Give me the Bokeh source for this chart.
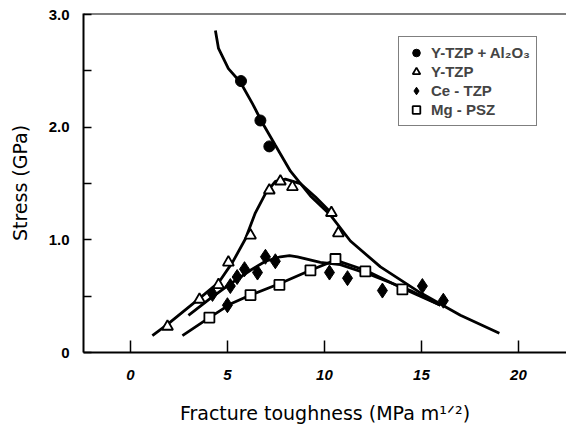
from bokeh.plotting import figure
from bokeh.models import Range1d, FixedTicker, Span, Legend, LegendItem
from bokeh.embed import file_html
from bokeh.resources import INLINE

# ---- data (fracture toughness MPa m^1/2, stress GPa) ----
al_x = [5.7, 6.7, 7.16]
al_y = [2.41, 2.06, 1.83]

ytzp_x = [1.91, 3.56, 4.54, 5.05, 6.19, 7.16, 7.73, 8.35, 10.36, 10.72]
ytzp_y = [0.23, 0.47, 0.60, 0.80, 1.04, 1.44, 1.52, 1.47, 1.24, 1.06]

ce_x = [4.23, 5.0, 5.15, 5.5, 5.88, 6.55, 6.96, 7.47, 10.26, 11.19, 12.99, 15.05, 16.13]
ce_y = [0.52, 0.42, 0.59, 0.67, 0.74, 0.71, 0.85, 0.81, 0.71, 0.66, 0.55, 0.59, 0.46]

mg_x = [4.07, 6.19, 7.68, 9.28, 10.57, 12.11, 14.02]
mg_y = [0.31, 0.51, 0.60, 0.73, 0.83, 0.72, 0.56]

# fitted curves
al_fit_x = [4.38, 4.54, 5.05, 5.67, 6.29, 6.80, 7.47, 8.25, 9.28, 10.31, 11.34, 12.89, 14.95, 17.01, 19.02]
al_fit_y = [2.86, 2.70, 2.52, 2.40, 2.21, 2.04, 1.84, 1.61, 1.39, 1.22, 0.99, 0.76, 0.53, 0.33, 0.17]

ytzp_fit_x = [1.13, 1.91, 3.56, 4.54, 5.26, 5.93, 6.44, 6.96, 7.47, 7.99, 8.76, 9.54, 10.46]
ytzp_fit_y = [0.15, 0.25, 0.48, 0.62, 0.80, 1.01, 1.24, 1.41, 1.52, 1.54, 1.50, 1.38, 1.22]

ce_fit_x = [2.99, 4.12, 5.15, 6.19, 6.96, 7.73, 8.20, 8.61, 9.79, 10.82, 12.37, 14.43, 15.98]
ce_fit_y = [0.33, 0.48, 0.61, 0.73, 0.81, 0.85, 0.86, 0.85, 0.80, 0.78, 0.69, 0.55, 0.42]

mg_fit_x = [2.68, 4.07, 5.15, 6.19, 7.68, 9.28, 10.57, 12.11, 14.02, 15.98]
mg_fit_y = [0.15, 0.31, 0.43, 0.51, 0.61, 0.73, 0.82, 0.73, 0.57, 0.42]

x_ticks = [0, 5, 10, 15, 20]
y_ticks = [0, 0.5, 1, 1.5, 2, 2.5, 3]
y_tick_labels = {0: "0", 0.5: "", 1: "1.0", 1.5: "", 2: "2.0", 2.5: "", 3: "3.0"}

names = ["Y-TZP + Al\u2082O\u2083", "Y-TZP", "Ce - TZP", "Mg - PSZ"]

p = figure(width=566, height=428, x_range=Range1d(-2.42, 22.48), y_range=Range1d(0, 3.01),
           output_backend="svg", toolbar_location=None,
           min_border_left=83, min_border_right=0, min_border_top=13, min_border_bottom=76)
p.xgrid.visible = False
p.ygrid.visible = False
p.outline_line_color = None
p.background_fill_color = "white"
p.border_fill_color = "white"

p.add_layout(Span(location=3.01, dimension="width", line_color="black", line_width=2))

for ax in (p.xaxis, p.yaxis):
    ax.axis_line_width = 2
    ax.axis_line_color = "black"
    ax.major_tick_line_color = "black"
    ax.major_tick_line_width = 1.5
    ax.minor_tick_line_color = None
    ax.major_tick_out = 0
    ax.major_label_text_color = "black"
    ax.axis_label_text_color = "black"
    ax.axis_label_text_font = "DejaVu Sans"
    ax.axis_label_text_font_style = "normal"
    ax.axis_label_text_font_size = "19px"

p.xaxis.ticker = FixedTicker(ticks=x_ticks)
p.xaxis.major_tick_in = 12
p.xaxis.major_label_text_font = "Liberation Sans"
p.xaxis.major_label_text_font_style = "bold italic"
p.xaxis.major_label_text_font_size = "15px"
p.xaxis.major_label_standoff = 17
p.xaxis.axis_label = "Fracture toughness (MPa m\u00b9\u141f\u00b2)"
p.xaxis.axis_label_standoff = 19

p.yaxis.ticker = FixedTicker(ticks=y_ticks)
p.yaxis.major_label_overrides = y_tick_labels
p.yaxis.major_tick_in = 8
p.yaxis.major_label_text_font = "Liberation Sans"
p.yaxis.major_label_text_font_style = "bold"
p.yaxis.major_label_text_font_size = "15px"
p.yaxis.major_label_standoff = 14
p.yaxis.axis_label = "Stress (GPa)"
p.yaxis.axis_label_standoff = 15

lw = 2.8
p.line(al_fit_x, al_fit_y, line_color="black", line_width=lw)
p.line(ytzp_fit_x, ytzp_fit_y, line_color="black", line_width=lw)
p.line(ce_fit_x, ce_fit_y, line_color="black", line_width=lw)
p.line(mg_fit_x, mg_fit_y, line_color="black", line_width=lw)

r_al = p.scatter(al_x, al_y, marker="circle", size=11, fill_color="black", line_color="black")
r_yt = p.scatter(ytzp_x, ytzp_y, marker="triangle", size=11, fill_color="white", line_color="black", line_width=1.8)
r_ce = p.scatter(ce_x, ce_y, marker="diamond", size=15, fill_color="black", line_color="black")
r_mg = p.scatter(mg_x, mg_y, marker="square", size=10, fill_color="white", line_color="black", line_width=1.8)

legend = Legend(items=[LegendItem(label=names[0], renderers=[r_al]),
                       LegendItem(label=names[1], renderers=[r_yt]),
                       LegendItem(label=names[2], renderers=[r_ce]),
                       LegendItem(label=names[3], renderers=[r_mg])],
                location=(315, 226))
legend.border_line_color = "black"
legend.border_line_width = 1.5
legend.background_fill_color = "white"
legend.background_fill_alpha = 1
legend.label_text_font = "Liberation Sans"
legend.label_text_font_style = "bold"
legend.label_text_font_size = "15px"
legend.glyph_width = 22
legend.glyph_height = 19
legend.label_height = 19
legend.spacing = 0
legend.padding = 6
legend.margin = 0
legend.label_standoff = 4
p.add_layout(legend)

open("out.html", "w").write(file_html(p, INLINE))
